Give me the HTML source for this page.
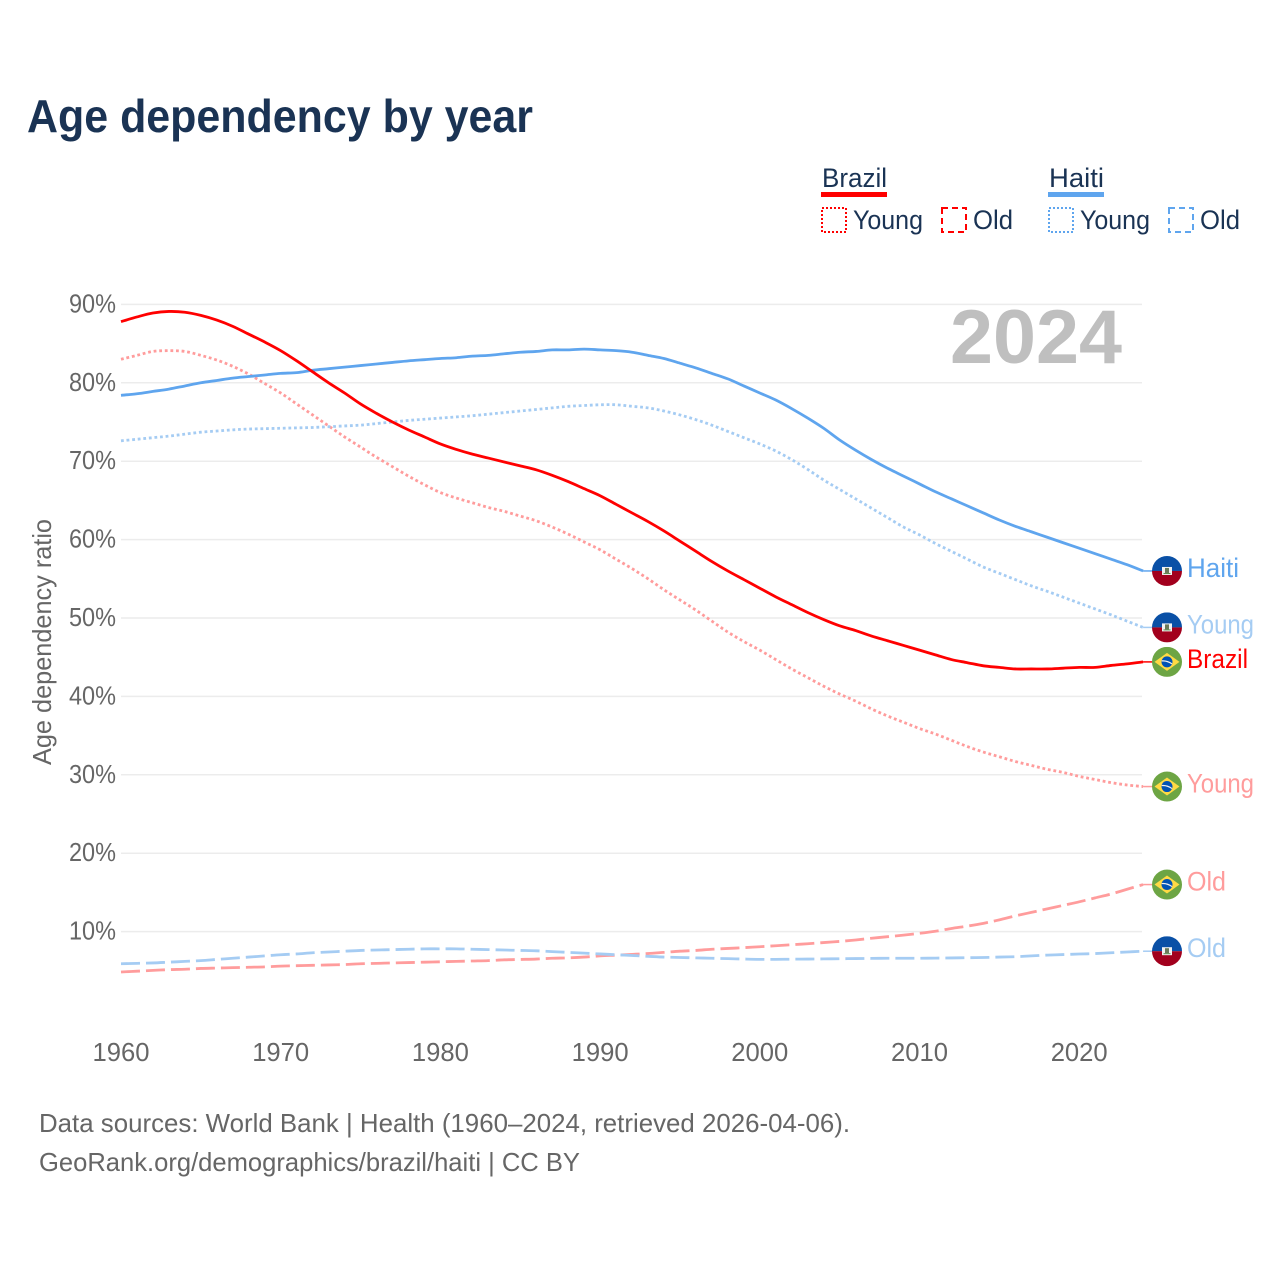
<!DOCTYPE html>
<html lang="en">
<head>
<meta charset="utf-8">
<title>Age dependency by year</title>
<style>
html,body{margin:0;padding:0;background:#fff;}
svg{display:block;}
text{font-family:"Liberation Sans",sans-serif;}
</style>
</head>
<body>
<svg id="chart" xmlns="http://www.w3.org/2000/svg" width="1280" height="1280" viewBox="0 0 1280 1280">
  <rect width="1280" height="1280" fill="#fff"/>
  <text x="27" y="132" font-size="46" font-weight="700" fill="#1a3354" textLength="506" lengthAdjust="spacingAndGlyphs">Age dependency by year</text>

  <g font-size="27" fill="#1a3354">
    <text x="822" y="187" textLength="65" lengthAdjust="spacingAndGlyphs">Brazil</text>
    <rect x="821" y="192" width="66" height="5" fill="#ff0000"/>
    <rect x="822" y="208" width="24" height="24" fill="none" stroke="#ff0000" stroke-width="2" stroke-dasharray="2 2"/>
    <text x="853" y="229" textLength="70" lengthAdjust="spacingAndGlyphs">Young</text>
    <rect x="942" y="208" width="24" height="24" fill="none" stroke="#ff0000" stroke-width="2" stroke-dasharray="6 4"/>
    <text x="973" y="229" textLength="40" lengthAdjust="spacingAndGlyphs">Old</text>
    <text x="1049" y="187" textLength="55" lengthAdjust="spacingAndGlyphs">Haiti</text>
    <rect x="1048" y="192" width="56" height="5" fill="#5fa5ee"/>
    <rect x="1049" y="208" width="24" height="24" fill="none" stroke="#5fa5ee" stroke-width="2" stroke-dasharray="2 2"/>
    <text x="1080" y="229" textLength="70" lengthAdjust="spacingAndGlyphs">Young</text>
    <rect x="1169" y="208" width="24" height="24" fill="none" stroke="#5fa5ee" stroke-width="2" stroke-dasharray="6 4"/>
    <text x="1200" y="229" textLength="40" lengthAdjust="spacingAndGlyphs">Old</text>
  </g>

  <g id="grid"></g>
  <g id="yticks" font-size="26" fill="#666"></g>
  <g id="xticks" font-size="26" fill="#666"></g>
  <text transform="translate(51,642) rotate(-90)" text-anchor="middle" font-size="26" fill="#666" textLength="246" lengthAdjust="spacingAndGlyphs">Age dependency ratio</text>
  <text x="950" y="363" font-size="76" font-weight="700" fill="#bfbfbf" textLength="172" lengthAdjust="spacingAndGlyphs">2024</text>
  <g id="series"></g>
  <g id="ends"></g>

  <text x="39" y="1132" font-size="26" fill="#666" textLength="811" lengthAdjust="spacingAndGlyphs">Data sources: World Bank | Health (1960–2024, retrieved 2026-04-06).</text>
  <text x="39" y="1171" font-size="26" fill="#666" textLength="541" lengthAdjust="spacingAndGlyphs">GeoRank.org/demographics/brazil/haiti | CC BY</text>
</svg>
<script>
const startYear = 1960;
const xTickLabels = [1960, 1970, 1980, 1990, 2000, 2010, 2020];
const yTickLabels = [10, 20, 30, 40, 50, 60, 70, 80, 90];
const brazilTotal = [87.8,88.4,88.9,89.1,89.0,88.6,88.0,87.2,86.2,85.2,84.1,82.8,81.4,80.0,78.7,77.3,76.1,75.0,74.0,73.1,72.2,71.5,70.9,70.4,69.9,69.4,68.9,68.2,67.4,66.5,65.6,64.5,63.4,62.3,61.1,59.8,58.5,57.2,56.0,54.9,53.8,52.7,51.7,50.7,49.8,49.0,48.4,47.7,47.1,46.5,45.9,45.3,44.7,44.3,43.9,43.7,43.5,43.5,43.5,43.6,43.7,43.7,43.95,44.15,44.4];
const brazilYoung = [83.0,83.5,84.0,84.1,84.0,83.5,82.9,82.1,81.1,79.9,78.7,77.3,75.9,74.5,73.1,71.8,70.5,69.3,68.1,67.0,66.0,65.3,64.7,64.1,63.6,63.0,62.4,61.6,60.7,59.7,58.7,57.5,56.3,55.0,53.6,52.3,51.0,49.6,48.2,47.0,45.9,44.7,43.5,42.4,41.3,40.3,39.4,38.4,37.5,36.7,35.9,35.2,34.4,33.6,32.9,32.3,31.7,31.2,30.7,30.3,29.8,29.4,29.0,28.7,28.5];
const brazilOld = [4.85,4.95,5.05,5.15,5.2,5.3,5.35,5.4,5.45,5.5,5.6,5.65,5.7,5.75,5.8,5.9,5.95,6.0,6.05,6.1,6.15,6.2,6.25,6.3,6.4,6.45,6.5,6.6,6.65,6.75,6.9,7.0,7.1,7.2,7.35,7.5,7.6,7.75,7.85,7.95,8.07,8.2,8.33,8.45,8.6,8.75,8.93,9.15,9.35,9.55,9.78,10.05,10.4,10.7,11.05,11.5,12.0,12.45,12.9,13.35,13.8,14.3,14.8,15.4,16.0];
const haitiTotal = [78.4,78.6,78.9,79.2,79.6,80.0,80.3,80.6,80.8,81.0,81.2,81.3,81.6,81.8,82.0,82.2,82.4,82.6,82.8,82.95,83.1,83.2,83.4,83.5,83.7,83.9,84.0,84.2,84.2,84.3,84.2,84.1,83.9,83.5,83.1,82.5,81.9,81.2,80.5,79.6,78.7,77.8,76.7,75.5,74.2,72.7,71.4,70.2,69.1,68.1,67.1,66.1,65.2,64.3,63.4,62.5,61.7,61.0,60.3,59.6,58.9,58.2,57.5,56.8,56.0];
const haitiYoung = [72.6,72.8,73.0,73.2,73.45,73.7,73.85,74.0,74.1,74.15,74.2,74.25,74.3,74.4,74.5,74.6,74.8,75.0,75.2,75.35,75.5,75.65,75.8,76.0,76.2,76.4,76.6,76.8,77.0,77.1,77.2,77.2,77.0,76.8,76.4,75.9,75.3,74.6,73.8,73.0,72.2,71.3,70.2,68.95,67.6,66.4,65.2,64.0,62.8,61.6,60.6,59.5,58.5,57.5,56.5,55.7,54.9,54.1,53.4,52.65,51.9,51.15,50.4,49.6,48.8];
const haitiOld = [5.9,5.95,6.0,6.1,6.2,6.3,6.45,6.6,6.75,6.9,7.05,7.15,7.3,7.4,7.5,7.6,7.65,7.7,7.75,7.8,7.8,7.8,7.75,7.7,7.65,7.6,7.55,7.45,7.35,7.25,7.15,7.05,6.95,6.85,6.75,6.7,6.65,6.6,6.55,6.5,6.46,6.46,6.48,6.5,6.52,6.54,6.56,6.58,6.6,6.6,6.6,6.62,6.64,6.67,6.7,6.75,6.8,6.9,7.0,7.07,7.14,7.2,7.3,7.4,7.5];

const NS = 'http://www.w3.org/2000/svg';
function xScale(year) { return 121 + (year - 1960) * 15.97; }
function yScale(value) { return 1010 - value * 7.84; }
function make(tag, parent, attrs, text) {
  const el = document.createElementNS(NS, tag);
  for (const k in attrs) el.setAttribute(k, attrs[k]);
  if (text !== undefined) el.textContent = text;
  parent.appendChild(el);
  return el;
}
const gridG = document.getElementById('grid');
const yG = document.getElementById('yticks');
const xG = document.getElementById('xticks');
const seriesG = document.getElementById('series');
const endsG = document.getElementById('ends');

yTickLabels.forEach(function (v) {
  const line = make('line', gridG, {x1: 121, x2: 1142, y1: yScale(v), y2: yScale(v), stroke: '#ececec', 'stroke-width': 1.5});
  
  
  const label = make('text', yG, {x: 69, y: yScale(v) + 8, textLength: 47, lengthAdjust: 'spacingAndGlyphs'}, v + '%');
  
  
});
xTickLabels.forEach(function (yr) {
  const label = make('text', xG, {x: xScale(yr) - 28.5, y: 1061, textLength: 57, lengthAdjust: 'spacingAndGlyphs'}, String(yr));
  
  
});

function smoothPath(values) {
  const pts = values.map(function (v, i) { return [xScale(startYear + i), yScale(v)]; });
  let d = 'M' + pts[0][0].toFixed(2) + ' ' + pts[0][1].toFixed(2);
  for (let i = 0; i < pts.length - 1; i++) {
    const p0 = pts[Math.max(i - 1, 0)], p1 = pts[i], p2 = pts[i + 1], p3 = pts[Math.min(i + 2, pts.length - 1)];
    const c1x = p1[0] + (p2[0] - p0[0]) / 6, c1y = p1[1] + (p2[1] - p0[1]) / 6;
    const c2x = p2[0] - (p3[0] - p1[0]) / 6, c2y = p2[1] - (p3[1] - p1[1]) / 6;
    d += ' C' + c1x.toFixed(2) + ' ' + c1y.toFixed(2) + ' ' + c2x.toFixed(2) + ' ' + c2y.toFixed(2) + ' ' + p2[0].toFixed(2) + ' ' + p2[1].toFixed(2);
  }
  return d;
}
function drawSeries(values, color, dash, width) {
  const path = make('path', seriesG, {d: smoothPath(values), fill: 'none', stroke: color, 'stroke-width': width, 'stroke-linejoin': 'round'});
  if (dash) path.setAttribute('stroke-dasharray', dash);
  
  
}
drawSeries(brazilOld, '#ff9c9c', '19 6', 2.8);
drawSeries(haitiOld, '#a5ccf3', '19 6', 2.8);
drawSeries(brazilYoung, '#ff9c9c', '2.8 2.8', 2.8);
drawSeries(haitiYoung, '#a5ccf3', '2.8 2.8', 2.8);
drawSeries(haitiTotal, '#5fa5ee', '', 2.8);
drawSeries(brazilTotal, '#ff0000', '', 2.8);

const defs = make('defs', document.getElementById('chart'), {});
function drawFlag(country, cy, id) {
  const cx = 1167, r = 15;
  const clip = make('clipPath', defs, {id: id});
  make('circle', clip, {cx: cx, cy: cy, r: r});
  const g = make('g', endsG, {'clip-path': 'url(#' + id + ')'});
  
  
  if (country === 'haiti') {
    make('rect', g, {x: cx - r, y: cy - r, width: 2 * r, height: r, fill: '#0a50a6'});
    make('rect', g, {x: cx - r, y: cy, width: 2 * r, height: r, fill: '#a2001d'});
    make('rect', g, {x: cx - 5, y: cy - 4, width: 10, height: 8, fill: '#f2f2f2'});
    make('rect', g, {x: cx - 2, y: cy - 3, width: 4, height: 5, fill: '#6a7a5a'});
    make('rect', g, {x: cx - 3.5, y: cy + 2, width: 7, height: 1, fill: '#5a8a4a'});
  } else {
    make('rect', g, {x: cx - r, y: cy - r, width: 2 * r, height: 2 * r, fill: '#6da544'});
    make('polygon', g, {points: (cx - 12.5) + ',' + cy + ' ' + cx + ',' + (cy - 9) + ' ' + (cx + 12.5) + ',' + cy + ' ' + cx + ',' + (cy + 9), fill: '#ffda44'});
    make('circle', g, {cx: cx, cy: cy, r: 5.5, fill: '#0052b4'});
    make('path', g, {d: 'M' + (cx - 5.3) + ' ' + (cy - 1) + ' Q' + cx + ' ' + (cy - 1.5) + ' ' + (cx + 5) + ' ' + (cy + 2), fill: 'none', stroke: '#f0f0f0', 'stroke-width': 1.2});
  }
}
function drawEnd(values, country, name, color, textWidth, id) {
  const last = values[values.length - 1];
  const y = yScale(last);
  const leader = make('line', endsG, {x1: xScale(2024), x2: 1153, y1: y, y2: y, stroke: color, 'stroke-width': 1.5});
  
  
  drawFlag(country, y, id);
  const t = make('text', endsG, {x: 1187, y: y + 6, 'font-size': 27, fill: color, textLength: textWidth, lengthAdjust: 'spacingAndGlyphs'}, name);
  
  
}
drawEnd(haitiTotal, 'haiti', 'Haiti', '#5fa5ee', 52, 'f1');
drawEnd(haitiYoung, 'haiti', 'Young', '#a5ccf3', 67, 'f2');
drawEnd(brazilTotal, 'brazil', 'Brazil', '#ff0000', 61, 'f3');
drawEnd(brazilYoung, 'brazil', 'Young', '#ff9c9c', 67, 'f4');
drawEnd(brazilOld, 'brazil', 'Old', '#ff9c9c', 39, 'f5');
drawEnd(haitiOld, 'haiti', 'Old', '#a5ccf3', 39, 'f6');
</script>
</body>
</html>
